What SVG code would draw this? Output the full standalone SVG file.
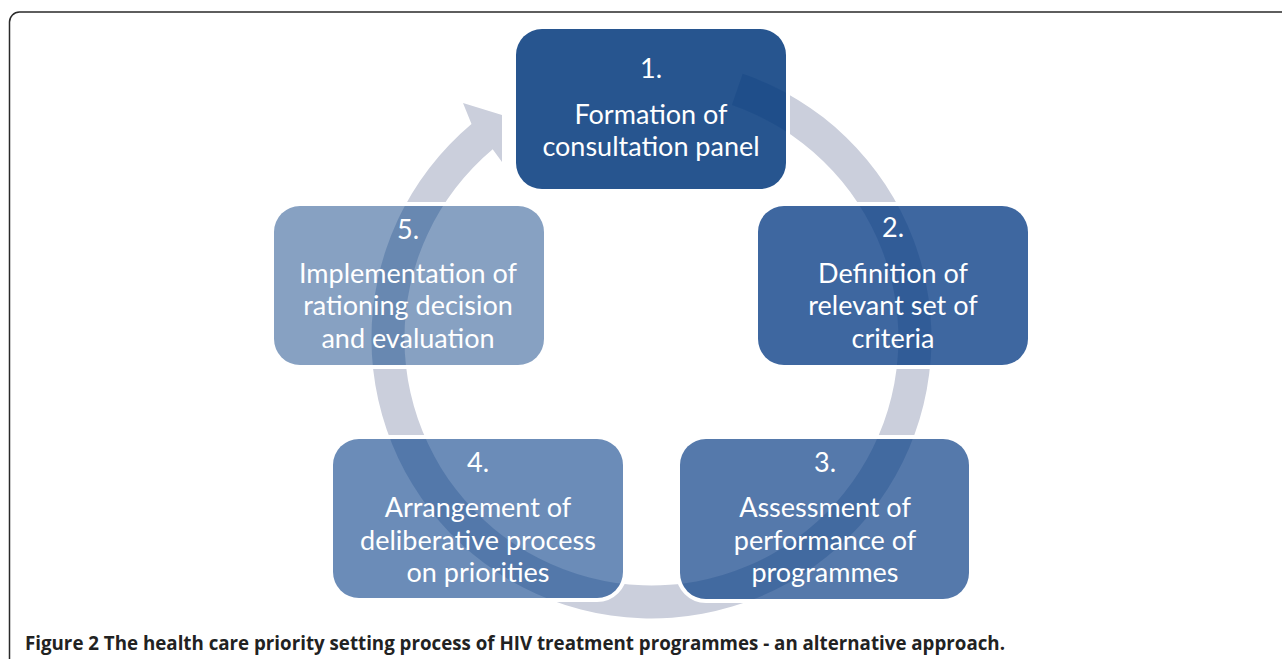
<svg xmlns="http://www.w3.org/2000/svg" width="1282" height="659" viewBox="0 0 1282 659">
<style>
.box{stroke:#ffffff;stroke-width:8;paint-order:stroke;}
.t{font-family:Lato,"Open Sans",sans-serif;font-size:27px;fill:#ffffff;text-anchor:middle;}
.cap{font-family:"Open Sans","Liberation Sans",sans-serif;font-size:19px;font-weight:700;fill:#222222;}
</style>
<defs>
<path id="ringShape" d="M742.7,73.8 A280,280 0 1 1 471.5,124 L463,103 L502,115 L502,162 L492.7,149.3 A247,247 0 1 0 731.9,105 Z"/>
<clipPath id="boxClip">
<rect x="516" y="29" width="270" height="160" rx="26"/>
<rect x="758" y="206" width="270" height="159" rx="26"/>
<rect x="680" y="439" width="289" height="160" rx="26"/>
<rect x="333" y="439" width="290" height="159" rx="26"/>
<rect x="274" y="206" width="270" height="159" rx="26"/>
</clipPath>
</defs>
<rect x="0" y="0" width="1282" height="659" fill="#ffffff"/>
<path d="M9.5,659 L9.5,22 A10,10 0 0 1 19.5,12 L1282,12" fill="none" stroke="#2a2a2a" stroke-width="1.5"/>
<g id="connectors">
<use href="#ringShape" fill="#cbcfdc"/>
</g>
<g id="node1"><rect class="box" x="516" y="29" width="270" height="160" rx="26" fill="#27558f"/></g>
<g id="node2"><rect class="box" x="758" y="206" width="270" height="159" rx="26" fill="#3e67a0"/></g>
<g id="node3"><rect class="box" x="680" y="439" width="289" height="160" rx="26" fill="#5579ab"/></g>
<g id="node4"><rect class="box" x="333" y="439" width="290" height="159" rx="26" fill="#6b8cb8"/></g>
<g id="node5"><rect class="box" x="274" y="206" width="270" height="159" rx="26" fill="#87a1c2"/></g>
<g id="ring-overlay" clip-path="url(#boxClip)">
<use href="#ringShape" fill="#0a3c7d" fill-opacity="0.24"/>
</g>
<g id="labels">
<text class="t" x="651" y="78">1.</text>
<text class="t" x="651" y="124">Formation of</text>
<text class="t" x="651" y="156">consultation panel</text>
<text class="t" x="893" y="237">2.</text>
<text class="t" x="893" y="283">Definition of</text>
<text class="t" x="893" y="315">relevant set of</text>
<text class="t" x="893" y="348">criteria</text>
<text class="t" x="825" y="472">3.</text>
<text class="t" x="825" y="517">Assessment of</text>
<text class="t" x="825" y="550">performance of</text>
<text class="t" x="825" y="582">programmes</text>
<text class="t" x="478" y="472">4.</text>
<text class="t" x="478" y="517">Arrangement of</text>
<text class="t" x="478" y="550">deliberative process</text>
<text class="t" x="478" y="582">on priorities</text>
<text class="t" x="408" y="239">5.</text>
<text class="t" x="408" y="283">Implementation of</text>
<text class="t" x="408" y="315">rationing decision</text>
<text class="t" x="408" y="348">and evaluation</text>
</g>
<text class="cap" x="25" y="650" textLength="980" lengthAdjust="spacingAndGlyphs">Figure 2 The health care priority setting process of HIV treatment programmes - an alternative approach.</text>
</svg>
